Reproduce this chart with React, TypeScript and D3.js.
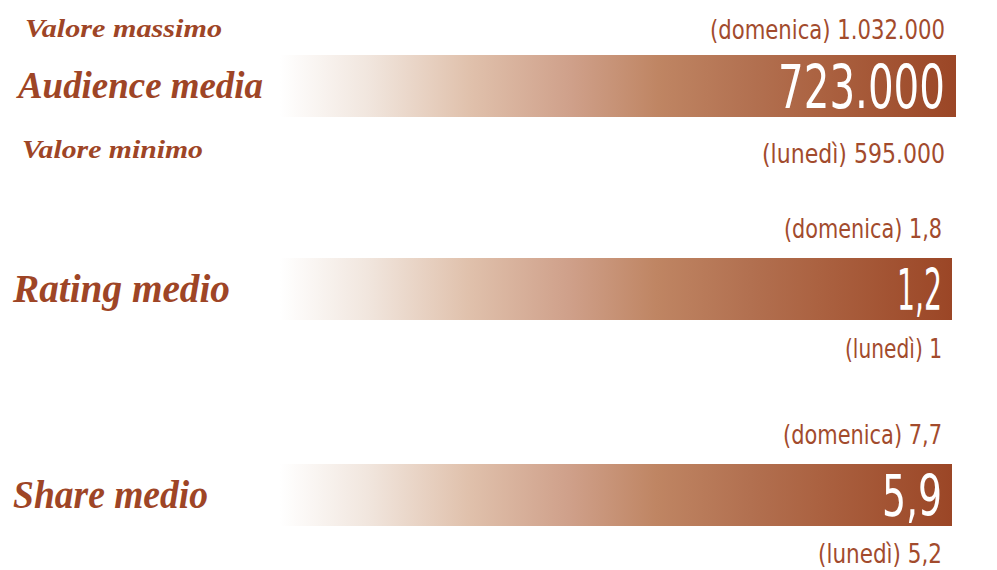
import React from "react";
import * as d3 from "d3";

const metrics = ["Audience media", "Rating medio", "Share medio"];
const averageValues = [723000, 1.2, 5.9];
const maxValues = [1032000, 1.8, 7.7];
const minValues = [595000, 1, 5.2];
const maxDays = ["domenica", "domenica", "domenica"];
const minDays = ["lunedì", "lunedì", "lunedì"];
const maxLabel = "Valore massimo";
const minLabel = "Valore minimo";

const W = 997;
const H = 570;
const BROWN = "#9e4526";
const TEXT = "#a24b2d";

const it = d3.formatLocale({ decimal: ",", thousands: ".", grouping: [3], currency: ["€", ""] });
const fmt = it.format(",~");

const gradStops = [
  [0, "#ffffff"],
  [0.13, "#f1e6de"],
  [0.28, "#e0c1ac"],
  [0.43, "#cfa08a"],
  [0.56, "#bf8563"],
  [0.7, "#b27050"],
  [0.8, "#ab6241"],
  [1, "#9b4626"],
];

export default function App() {
  const y = d3.scaleBand<number>().domain([0, 1, 2]).range([55, 664]).paddingInner(0).paddingOuter(0);
  const x = d3.scaleLinear().domain([0, 1]).range([280, 954]);
  const barH = 62;
  const numFont = "'DejaVu Sans Condensed', 'DejaVu Sans', sans-serif";
  const scriptFont = "'Liberation Serif', 'DejaVu Serif', serif";
  return (
    <svg width={W} height={H} style={{ position: "absolute", left: 0, top: 0, background: "#fff" }}>
      <defs>
        <linearGradient id="barGrad" x1="0" x2="1" y1="0" y2="0">
          {gradStops.map(([o, c], i) => (
            <stop key={i} offset={o as number} stopColor={c as string} />
          ))}
        </linearGradient>
      </defs>
      {metrics.map((m, i) => {
        const top = y(i)! + (i === 2 ? 3 : 0);
        const first = i === 0;
        const right = x(1) - (first ? 9 : 12);
        return (
          <g key={m}>
            <rect x={x(0)} y={top} width={x(1) - x(0) + (first ? 2 : -2)} height={barH} fill="url(#barGrad)" />
            <text
              x={right}
              y={top + (first ? 53 : 52)}
              textAnchor="end"
              fill="#fff"
              fontFamily={numFont}
              fontSize={first ? 60 : 57}
              fontWeight={300}
              textLength={first ? 167 : i === 1 ? 45 : 60}
              lengthAdjust="spacingAndGlyphs"
            >
              {fmt(averageValues[i])}
            </text>
            <text
              x={right}
              y={top - (first ? 16 : 20)}
              textAnchor="end"
              fill={TEXT}
              fontFamily={numFont}
              fontSize={26}
              fontWeight={300}
              textLength={first ? 235 : i === 1 ? 158 : 159}
              lengthAdjust="spacingAndGlyphs"
            >
              {`(${maxDays[i]}) ${fmt(maxValues[i])}`}
            </text>
            <text
              x={right}
              y={top + barH + (first ? 46 : i === 1 ? 38 : 37)}
              textAnchor="end"
              fill={TEXT}
              fontFamily={numFont}
              fontSize={26}
              fontWeight={300}
              textLength={first ? 183 : i === 1 ? 97 : 124}
              lengthAdjust="spacingAndGlyphs"
            >
              {`(${minDays[i]}) ${fmt(minValues[i])}`}
            </text>
            <text
              x={first ? 18 : 13}
              y={first ? 98 : top + 44}
              fill={BROWN}
              fontFamily={scriptFont}
              fontStyle="italic"
              fontWeight={700}
              fontSize={first ? 38 : 40}
              textLength={first ? 245 : i === 1 ? 217 : 195}
              lengthAdjust="spacingAndGlyphs"
            >
              {m}
            </text>
            {first && (
              <>
                <text x={25} y={37} fill={BROWN} fontFamily={scriptFont} fontStyle="italic" fontWeight={700}
                  fontSize={26} textLength={197} lengthAdjust="spacingAndGlyphs">
                  {maxLabel}
                </text>
                <text x={22} y={158} fill={BROWN} fontFamily={scriptFont} fontStyle="italic" fontWeight={700}
                  fontSize={26} textLength={181} lengthAdjust="spacingAndGlyphs">
                  {minLabel}
                </text>
              </>
            )}
          </g>
        );
      })}
    </svg>
  );
}
